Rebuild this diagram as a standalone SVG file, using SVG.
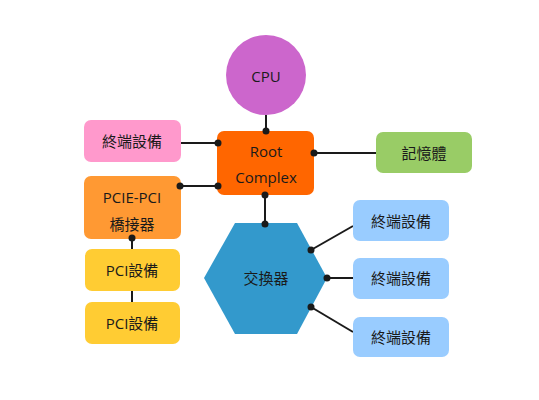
<svg xmlns="http://www.w3.org/2000/svg" width="539" height="400" viewBox="0 0 539 400">
<style>
text{font-family:"Open Sans","Noto Sans CJK TC",sans-serif;font-size:15px;fill:#1a1a1a;text-anchor:middle;dominant-baseline:central}
.ln{stroke:#1a1a1a;stroke-width:2;fill:none}
.dot{fill:#1a1a1a}
</style>
<rect width="539" height="400" fill="#fff"/>
<g id="connectors">
<line class="ln" x1="266" y1="115" x2="266" y2="131"/>
<line class="ln" x1="181" y1="143" x2="218" y2="143"/>
<line class="ln" x1="180" y1="186" x2="218" y2="186"/>
<line class="ln" x1="314" y1="153" x2="376" y2="153"/>
<line class="ln" x1="265" y1="195" x2="265" y2="224"/>
<line class="ln" x1="132" y1="238" x2="132" y2="249"/>
<line class="ln" x1="132" y1="291" x2="132" y2="302"/>
<line class="ln" x1="311" y1="250" x2="353" y2="226"/>
<line class="ln" x1="327" y1="278" x2="353" y2="278"/>
<line class="ln" x1="311" y1="307" x2="353" y2="332"/>
</g>
<g id="cpu"><circle cx="266" cy="75" r="40" fill="#CC66CC"/><text x="266" y="76">CPU</text></g>
<g id="root"><rect x="217" y="131" width="97" height="64" rx="7" fill="#FF6600"/><text x="266" y="151">Root</text><text x="266" y="177">Complex</text></g>
<g id="term-left"><rect x="84" y="120" width="97" height="42" rx="7" fill="#FF99CC"/><text x="132" y="141">終端設備</text></g>
<g id="bridge"><rect x="84" y="176" width="97" height="63" rx="7" fill="#FF9933"/><text x="132" y="197">PCIE-PCI</text><text x="132" y="224">橋接器</text></g>
<g id="pci1"><rect x="85" y="249" width="95" height="42" rx="7" fill="#FFCC33"/><text x="132" y="270">PCI設備</text></g>
<g id="pci2"><rect x="85" y="302" width="95" height="42" rx="7" fill="#FFCC33"/><text x="132" y="323">PCI設備</text></g>
<g id="memory"><rect x="376" y="132" width="96" height="41" rx="7" fill="#99CC66"/><text x="424" y="153">記憶體</text></g>
<g id="switch"><polygon points="235,223 297,223 327,278 297,334 235,334 204,278" fill="#3399CC"/><text x="266" y="278">交換器</text></g>
<g id="term1"><rect x="353" y="200" width="96" height="41" rx="7" fill="#99CCFF"/><text x="401" y="221">終端設備</text></g>
<g id="term2"><rect x="353" y="258" width="96" height="41" rx="7" fill="#99CCFF"/><text x="401" y="278">終端設備</text></g>
<g id="term3"><rect x="353" y="317" width="96" height="40" rx="7" fill="#99CCFF"/><text x="401" y="337">終端設備</text></g>
<g id="dots">
<circle class="dot" cx="266" cy="131" r="3.5"/>
<circle class="dot" cx="218" cy="143" r="3.5"/>
<circle class="dot" cx="218" cy="186" r="3.5"/>
<circle class="dot" cx="180" cy="186" r="3.5"/>
<circle class="dot" cx="314" cy="153" r="3.5"/>
<circle class="dot" cx="265" cy="195" r="3.5"/>
<circle class="dot" cx="265" cy="224" r="3.5"/>
<circle class="dot" cx="132" cy="238" r="3.5"/>
<circle class="dot" cx="311" cy="250" r="3.5"/>
<circle class="dot" cx="327" cy="278" r="3.5"/>
<circle class="dot" cx="311" cy="307" r="3.5"/>
</g>
</svg>
